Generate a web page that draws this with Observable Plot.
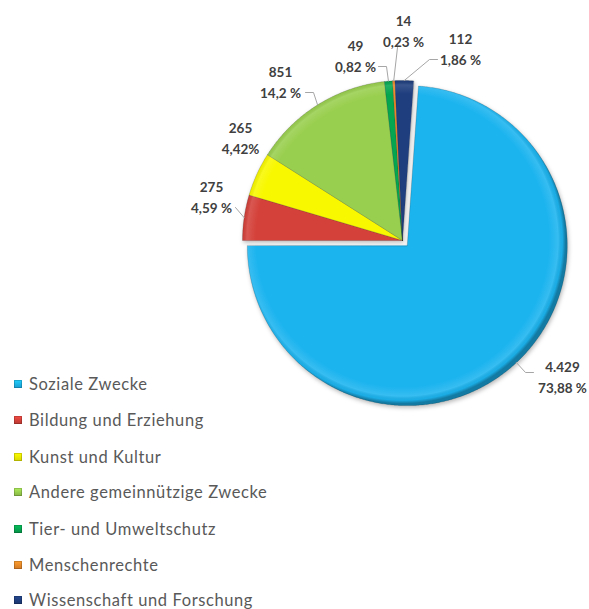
<!DOCTYPE html>
<html><head><meta charset="utf-8">
<script src="https://cdn.jsdelivr.net/npm/d3@7"></script>
<script src="https://cdn.jsdelivr.net/npm/@observablehq/plot@0.6"></script>
<style>
body{margin:0;background:#fff;}
#wrap{position:relative;width:589px;height:609px;overflow:hidden;}
#wrap svg{position:absolute;left:0;top:0;}
.lg{position:absolute;left:14px;display:flex;align-items:center;font-family:Lato,sans-serif;font-size:16.5px;letter-spacing:0.6px;color:#595959;white-space:nowrap;}
.lg .sw{width:8px;height:8px;margin-right:7px;box-shadow:inset 0 0 0 1px rgba(0,0,0,0.18);}
</style></head><body><div id="wrap"></div>
<script>
// ---- data ----
const categories = ["Soziale Zwecke","Bildung und Erziehung","Kunst und Kultur","Andere gemeinnützige Zwecke","Tier- und Umweltschutz","Menschenrechte","Wissenschaft und Forschung"];
const values = [4429, 275, 265, 851, 49, 14, 112];
const valueLabels = ["4.429","275","265","851","49","14","112"];
const percentLabels = ["73,88 %","4,59 %","4,42%","14,2 %","0,82 %","0,23 %","1,86 %"];
const colors = ["#1cb4ef","#d4413a","#f8f800","#99cf4f","#05a650","#f08a2a","#1f3e7e"];

// ---- layout (pixels) ----
const W = 589, H = 609, cx = 402, cy = 240, R = 160;
const startDeg = 4;
const explodePx = [7,0,0,0,0,0,0];
// label line-1 centre and leader attach offsets (px)
const labelAt = [[562,365],[211,185],[240,126],[280,70],[355,44],[403,19],[460,37]];
const leaderEnd = [[-29,7],[24,22],null,[25,22],[23,22],[-6,28],[-23,22]];
const elbow = [8,0,0,8,8,0,8];
const legendY = [384,420,457,492,529,565,600];

const rows = categories.map((name,i)=>({name, value: values[i], i}));
const toX = px => (px - cx)/R, toY = py => (cy - py)/R;

const a0 = startDeg*Math.PI/180;
const arcs = d3.pie().sort(null).value(d=>d.value).startAngle(a0).endAngle(a0+2*Math.PI)(rows);
const slices = [];
const edgePts = [];
arcs.forEach(a=>{
  const i = a.data.i, m = (a.startAngle+a.endAngle)/2, e = explodePx[i]/R;
  const ox = e*Math.sin(m), oy = e*Math.cos(m);
  const n = Math.max(2, Math.ceil((a.endAngle-a.startAngle)/(Math.PI/360)));
  slices.push({x:ox, y:oy, name:a.data.name});
  for(let k=0;k<=n;k++){
    const t = a.startAngle + (a.endAngle-a.startAngle)*k/n;
    slices.push({x: ox+Math.sin(t), y: oy+Math.cos(t), name:a.data.name});
  }
  edgePts.push({x: ox+Math.sin(m), y: oy+Math.cos(m)});
});

const labels = rows.map((r,i)=>({
  x: toX(labelAt[i][0]), y: toY(labelAt[i][1]+10),
  text: valueLabels[i] + "\n" + percentLabels[i]
}));
const leaders = [];
rows.forEach((r,i)=>{
  if(!leaderEnd[i]) return;
  const ex = labelAt[i][0]+leaderEnd[i][0], ey = labelAt[i][1]+leaderEnd[i][1];
  const dir = leaderEnd[i][0] < 0 ? -1 : 1;
  leaders.push({x: edgePts[i].x, y: edgePts[i].y, k:i});
  if(elbow[i]) leaders.push({x: toX(ex + dir*elbow[i]), y: toY(ey), k:i});
  leaders.push({x: toX(ex), y: toY(ey), k:i});
});

const plot = Plot.plot({
  width: W, height: H, margin: 0,
  x: {domain:[-1,1], range:[cx-R, cx+R], axis:null},
  y: {domain:[-1,1], range:[cy+R, cy-R], axis:null},
  color: {domain: categories, range: colors},
  style: {background:"transparent", overflow:"visible"},
  marks: [
    Plot.line(slices, {x:"x", y:"y", z:"name", fill:"name", stroke:"rgba(0,0,0,0.22)", strokeWidth:0.7, curve:"linear-closed"}),
    Plot.line(slices, {x:"x", y:"y", z:"name", fill:"url(#bevel)", stroke:"none", curve:"linear-closed"}),
    Plot.line(leaders, {x:"x", y:"y", z:"k", stroke:"#a6a6a6", strokeWidth:1}),
    Plot.text(labels, {x:"x", y:"y", text:"text", fontFamily:"Lato, sans-serif", fontWeight:"bold", fontSize:13.5, fill:"#404040", lineHeight:1.55, lineAnchor:"middle"})
  ]
});
const wrap = document.getElementById("wrap");
wrap.appendChild(plot);

// gradient defs for bevel effect
const svg = d3.select(plot);
const px0 = plot.scale("x").apply(0), py0 = plot.scale("y").apply(0);
const defs = svg.insert("defs", ":first-child");
const g = defs.append("radialGradient").attr("id","bevel").attr("gradientUnits","userSpaceOnUse")
  .attr("cx",px0).attr("cy",py0).attr("r",R+3);
[[0,"#fff",0],[0.9,"#fff",0],[0.955,"#fff",0.12],[0.98,"#000",0.04],[1,"#000",0.32]].forEach(([o,c,a])=>
  g.append("stop").attr("offset",o).attr("stop-color",c).attr("stop-opacity",a));
svg.selectAll('g[aria-label="line"]').filter((d,i)=>i===0).style("filter","drop-shadow(1px 2px 2px rgba(0,0,0,0.28))");

// legend
categories.forEach((c,i)=>{
  const d = document.createElement("div");
  d.className = "lg";
  d.style.top = (legendY[i]-10) + "px";
  d.style.height = "20px";
  const sw = document.createElement("span");
  sw.className = "sw";
  sw.style.background = `linear-gradient(${d3.color(colors[i]).brighter(0.4)}, ${d3.color(colors[i]).darker(0.4)})`;
  d.appendChild(sw);
  d.appendChild(document.createTextNode(c));
  wrap.appendChild(d);
});
</script></body></html>
